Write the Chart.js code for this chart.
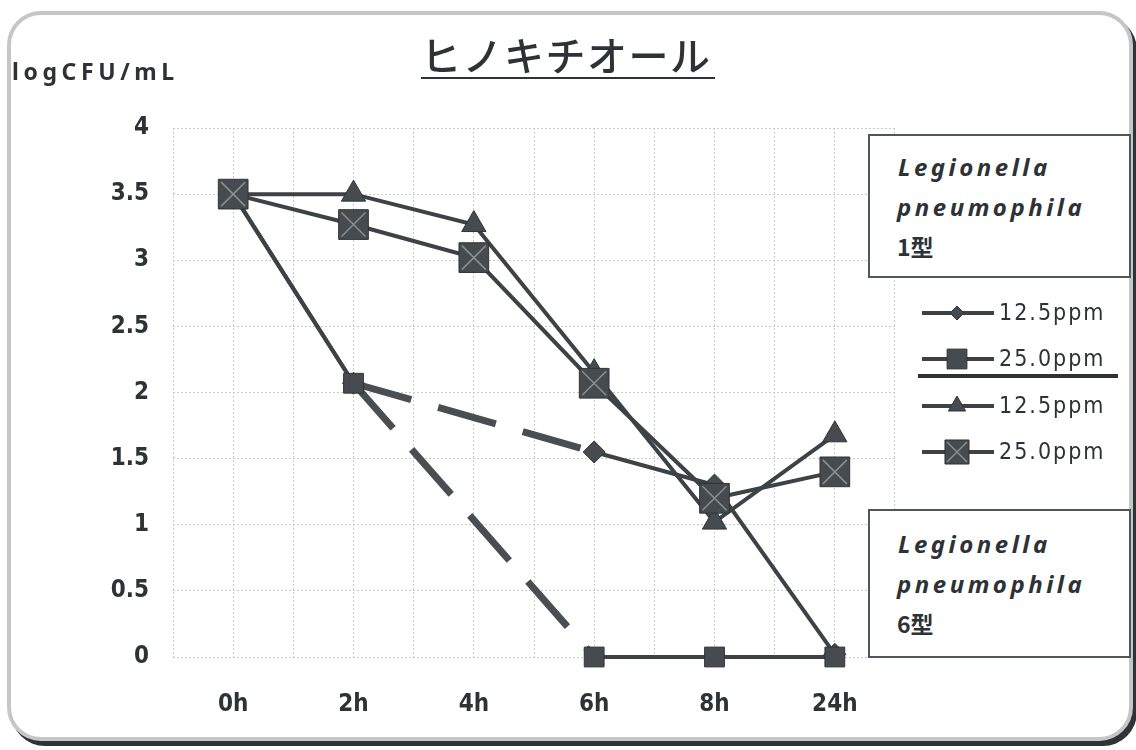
<!DOCTYPE html>
<html>
<head>
<meta charset="utf-8">
<script src="https://cdn.jsdelivr.net/npm/chart.js"></script>
<style>
  html, body { margin: 0; padding: 0; background: #fff; width: 1136px; height: 750px; overflow: hidden; }
  #frame { position: absolute; left: 7px; top: 11px; width: 1118px; height: 722px;
           border: 4px solid #c6c6c6; border-radius: 34px; box-shadow: 4px 5px 0 0 #2d3337; background: #fff; }
  #wrap { position: absolute; left: 0; top: 0; width: 1136px; height: 750px; }
  .txt { position: absolute; color: #2d3236; white-space: nowrap; }
  #title { left: 421px; top: 31px; font: 500 40px "Noto Sans CJK JP", sans-serif; letter-spacing: 1.5px;
           border-bottom: 2px solid #2d3236; line-height: 46px; padding-right: 3px; }
  #ylabel { left: 12px; top: 55px; font: 700 23px "Noto Sans", sans-serif; letter-spacing: 4.6px; }
  .box { position: absolute; border: 2px solid #50565a; background: #fff; }
  .box div { font: italic 700 24px "Noto Sans", sans-serif; letter-spacing: 3.5px; line-height: 40px; color: #2d3236; }
  .box div.kata { font: 700 23px "Noto Sans CJK JP", sans-serif; letter-spacing: 0; }
</style>
</head>
<body>
<div id="frame"></div>
<div id="wrap"><canvas id="graph" width="1136" height="750"></canvas></div>
<div class="txt" id="title">ヒノキチオール</div>
<div class="txt" id="ylabel">logCFU/mL</div>
<div class="box" style="left:868px; top:134px; width:259px; height:140px;">
  <div style="padding-left:28px; padding-top:11px;">Legionella</div>
  <div style="padding-left:27px;">pneumophila</div>
  <div class="kata" style="padding-left:27px; margin-top:2px;">1型</div>
</div>
<div class="box" style="left:868px; top:509px; width:259px; height:145px;">
  <div style="padding-left:28px; padding-top:13px;">Legionella</div>
  <div style="padding-left:27px;">pneumophila</div>
  <div class="kata" style="padding-left:27px; margin-top:2px;">6型</div>
</div>
<script>
// temps de contact
const temps = ["0h", "2h", "4h", "6h", "8h", "24h"];

// type 6 (pas de mesure à 4h)
const type6_125 = [3.5, 2.07, null, 1.55, 1.3, 0.02];
const type6_250 = [3.5, 2.07, null, 0, 0, 0];
// type 1
const type1_125 = [3.5, 3.5, 3.27, 2.15, 1.02, 1.68];
const type1_250 = [3.5, 3.27, 3.02, 2.07, 1.2, 1.4];

const legendeTextes = ["12.5ppm", "25.0ppm", "12.5ppm", "25.0ppm"];

const couleurTrait = "#3c4246";
const couleurPoint = "#454b4f";

function serie(label, data, style, rayon, ordre, rayonLegende) {
    // segment en pointillés quand on saute une mesure manquante
    const trou = ctx => data[ctx.p0DataIndex] === null;
    return {
        label: label,
        data: data,
        borderColor: couleurTrait,
        backgroundColor: couleurPoint,
        borderWidth: 4,
        pointStyle: style,
        pointRadius: rayon,
        pointHoverRadius: rayon,
        pointBorderWidth: 1,
        pointBorderColor: "#2f3539",
        spanGaps: true,
        clip: false,
        order: ordre,
        legendRadius: rayonLegende,
        segment: {
            borderDash: ctx => trou(ctx) ? [60, 28] : undefined,
            borderWidth: ctx => trou(ctx) ? 7 : undefined,
            borderColor: ctx => trou(ctx) ? "#484e51" : undefined,
        },
    };
}

// croix claire dans les gros carrés
const croixPlugin = {
    id: "croix",
    afterDatasetsDraw(chart) {
        const ctx = chart.ctx;
        const meta = chart.getDatasetMeta(3);
        ctx.save();
        ctx.strokeStyle = "rgba(160,166,168,0.75)";
        ctx.lineWidth = 1.5;
        for (const p of meta.data) {
            const s = 12;
            ctx.beginPath();
            ctx.moveTo(p.x - s, p.y - s); ctx.lineTo(p.x + s, p.y + s);
            ctx.moveTo(p.x + s, p.y - s); ctx.lineTo(p.x - s, p.y + s);
            ctx.stroke();
        }
        ctx.restore();
    }
};

// légende des séries à droite
const legendePlugin = {
    id: "legendeSeries",
    afterDraw(chart) {
        const ctx = chart.ctx;
        const lignes = [313, 359, 406, 452];
        ctx.save();
        ctx.font = '23px "DejaVu Sans Condensed", "DejaVu Sans", sans-serif';
        ctx.letterSpacing = "2px";
        ctx.textBaseline = "middle";
        chart.data.datasets.forEach((ds, i) => {
            const y = lignes[i];
            ctx.strokeStyle = ds.borderColor;
            ctx.lineWidth = 4;
            ctx.beginPath();
            ctx.moveTo(922, y);
            ctx.lineTo(994, y);
            ctx.stroke();
            ctx.fillStyle = ds.backgroundColor;
            ctx.strokeStyle = "#2f3539";
            ctx.lineWidth = 1;
            Chart.helpers.drawPoint(ctx, { pointStyle: ds.pointStyle, radius: ds.legendRadius, borderWidth: 1, rotation: 0 }, 957, y);
            if (i === 3) {
                ctx.strokeStyle = "rgba(160,166,168,0.75)";
                ctx.lineWidth = 1.5;
                ctx.beginPath();
                ctx.moveTo(947, y - 10); ctx.lineTo(967, y + 10);
                ctx.moveTo(967, y - 10); ctx.lineTo(947, y + 10);
                ctx.stroke();
            }
            ctx.fillStyle = "#2d3236";
            ctx.fillText(legendeTextes[i], 999, y + 1);
        });
        // trait séparateur sous le 2e 25.0ppm
        ctx.strokeStyle = "#2d3236";
        ctx.lineWidth = 4;
        ctx.beginPath();
        ctx.moveTo(918, 376);
        ctx.lineTo(1118, 376);
        ctx.stroke();
        ctx.restore();
    }
};

const policeAxes = { family: '"DejaVu Sans Condensed", "DejaVu Sans"', size: 24, weight: "bold" };

const config = {
    type: "line",
    data: {
        labels: temps,
        datasets: [
            serie("12.5ppm (6型)", type6_125, "rectRot", 11, 4, 7),
            serie("25.0ppm (6型)", type6_250, "rect", 14, 3, 14),
            serie("12.5ppm (1型)", type1_125, "triangle", 14, 2, 10),
            serie("25.0ppm (1型)", type1_250, "rect", 21, 1, 17),
        ],
    },
    options: {
        responsive: false,
        animation: false,
        events: [],
        layout: { padding: { top: 128, right: 241, left: 0, bottom: 0 } },
        plugins: { legend: { display: false }, tooltip: { enabled: false } },
        scales: {
            x: {
                offset: true,
                grid: { color: "#cacaca", lineWidth: 1, drawTicks: false, offset: false },
                border: { display: false, dash: [2, 2] },
                ticks: { color: "#2d3236", padding: 33, font: policeAxes },
                afterFit: s => { s.height = 93; },
            },
            x2: {
                type: "category",
                position: "bottom",
                offset: true,
                grid: { color: "#cacaca", lineWidth: 1, drawTicks: false, offset: true },
                border: { display: false, dash: [2, 2] },
                ticks: { display: false },
                afterFit: s => { s.height = 0; },
            },
            y: {
                min: 0,
                max: 4,
                ticks: { stepSize: 0.5, color: "#2d3236", padding: 24, font: policeAxes, callback: v => String(v) },
                grid: { color: "#cacaca", lineWidth: 1, drawTicks: false },
                border: { display: false, dash: [2, 2] },
                afterFit: s => { s.width = 173; },
            },
        },
    },
    plugins: [croixPlugin, legendePlugin],
};

new Chart(document.querySelector("#graph"), config);
</script>
</body>
</html>
